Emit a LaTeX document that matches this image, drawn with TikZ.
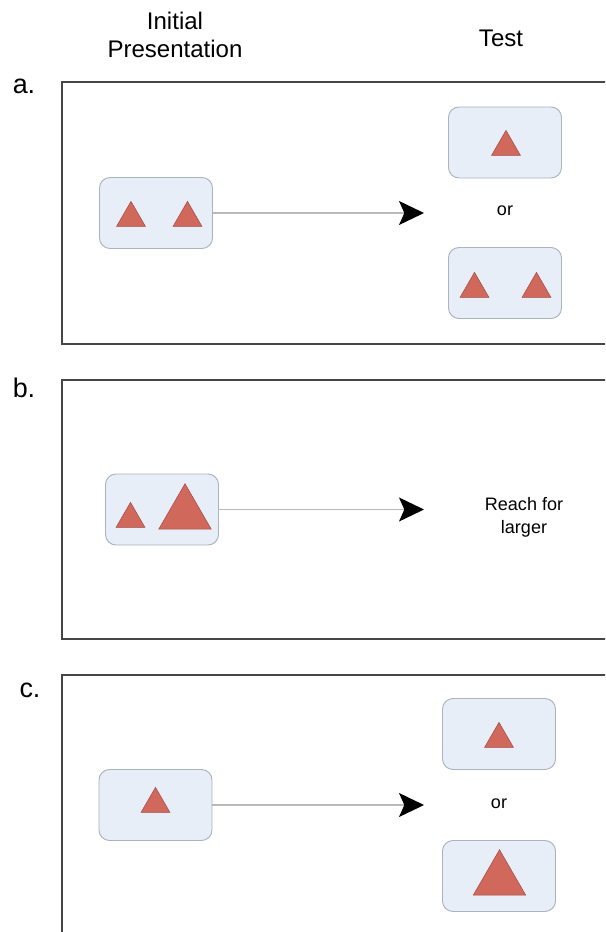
\documentclass[tikz,border=0pt]{standalone}
\usepackage{fontspec}
\setmainfont{Liberation Sans}
\usepackage{xcolor}
\usepackage{tikz}
\definecolor{framegray}{RGB}{70, 70, 70}
\definecolor{boxfill}{RGB}{232, 238, 248}
\definecolor{boxedge}{RGB}{172, 178, 190}
\definecolor{trifill}{RGB}{208, 104, 92}
\definecolor{triedge}{RGB}{160, 72, 62}
\definecolor{linegray}{RGB}{185, 185, 185}
\usetikzlibrary{shapes.geometric, arrows.meta, positioning}

\begin{document}
\begin{tikzpicture}[
        x=0.03cm, y=-0.03cm,
        panelframe/.style={draw=framegray, line width=1.6pt},
        trialbox/.style={rectangle, rounded corners=9pt, draw=boxedge, fill=boxfill, line width=0.8pt, minimum width=3.39cm, minimum height=2.13cm},
        smalltri/.style={regular polygon, regular polygon sides=3, fill=trifill, draw=triedge, line width=0.4pt, minimum size=1.0cm, inner sep=0pt, outer sep=0pt},
        bigtri/.style={smalltri, minimum size=1.82cm},
        testarrow/.style={draw=linegray, line width=1.1pt, -{Stealth[length=7.5mm, width=7.2mm, inset=1.6mm, black]}},
        headtext/.style={font=\fontsize{20.5}{23.5}\selectfont, align=center},
        paneltext/.style={font=\fontsize{23}{26}\selectfont},
        smalltext/.style={font=\fontsize{15.4}{19.5}\selectfont, align=center}
    ]
        \clip (0,0) rectangle (605,932);

        % Headings
        \node[headtext] (hinit) at (175,35) {Initial\\Presentation};
        \node[headtext] (htest) at (501,38) {Test};

        % Panel frames
        \draw[panelframe] (62,82) rectangle (640,344);
        \draw[panelframe] (62,380) rectangle (640,639);
        \draw[panelframe] (62,675) rectangle (640,960);
        \node[paneltext] (la) at (24,86) {a.};
        \node[paneltext] (lb) at (24,388) {b.};
        \node[paneltext] (lc) at (30,690) {c.};

        % Panel a
        \node[trialbox] (a0) at (156,213) {};
        \node[trialbox] (a1) at (505,142.5) {};
        \node[trialbox] (a2) at (505,283) {};
        \node[smalltri] (a0l) at (131,218) {};
        \node[smalltri] (a0r) at (187.5,218) {};
        \node[smalltri] (a1t) at (506,147) {};
        \node[smalltri] (a2l) at (474.5,289) {};
        \node[smalltri] (a2r) at (536.5,289) {};
        \node[smalltext] (aor) at (505,211) {or};
        \coordinate (atip) at (424,213);
        \draw[testarrow] (a0) -- (atip);

        % Panel b
        \node[trialbox] (b0) at (162,509.5) {};
        \node[smalltri] (b0l) at (130.5,519) {};
        \node[bigtri] (b0r) at (185,514) {};
        \node[smalltext] (breach) at (524,517) {Reach for\\larger};
        \coordinate (btip) at (424,509.5);
        \draw[testarrow] (b0) -- (btip);

        % Panel c
        \node[trialbox] (c0) at (155.5,805) {};
        \node[trialbox] (c1) at (499,734) {};
        \node[trialbox] (c2) at (499,876) {};
        \node[smalltri] (c0t) at (155.5,804) {};
        \node[smalltri] (c1t) at (499,739) {};
        \node[bigtri] (c2t) at (499.5,880) {};
        \node[smalltext] (cor) at (499,804) {or};
        \coordinate (ctip) at (424,805);
        \draw[testarrow] (c0) -- (ctip);
    \end{tikzpicture}
\end{document}
